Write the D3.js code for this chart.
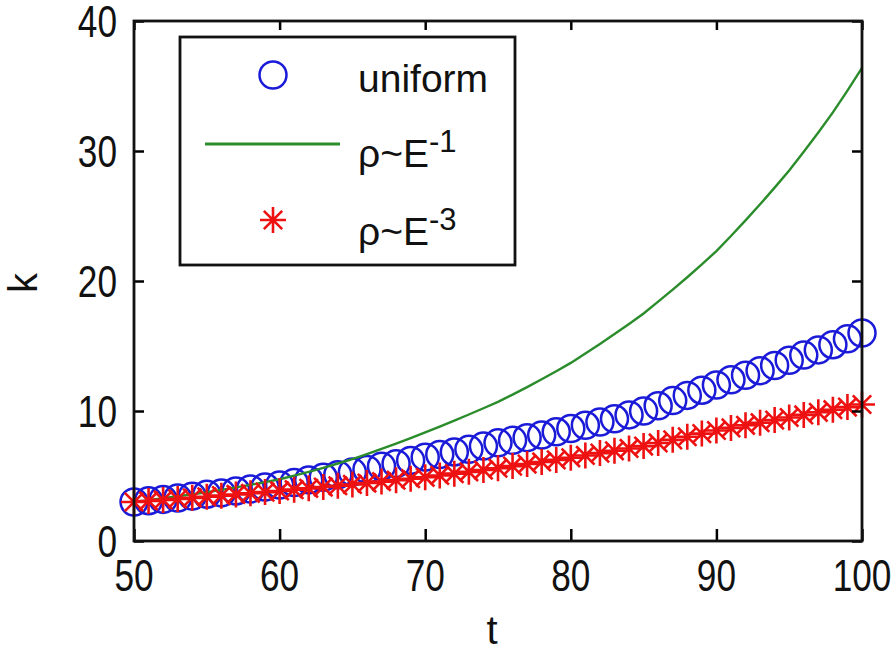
<!DOCTYPE html>
<html>
<head>
<meta charset="utf-8">
<script src="https://cdn.jsdelivr.net/npm/d3@7"></script>
<style>
  html, body { margin: 0; padding: 0; background: #fff; }
  svg { display: block; }
</style>
</head>
<body>
<svg id="chart" width="896" height="651"></svg>
<script>
// ---- data ----
const tValues = d3.range(50, 101, 1);
const uniform = [3.0, 3.1, 3.2, 3.3, 3.45, 3.6, 3.7, 3.85, 4.0, 4.15,
  4.3, 4.5, 4.7, 4.9, 5.1, 5.3, 5.5, 5.75, 5.95, 6.2,
  6.45, 6.65, 6.85, 7.05, 7.3, 7.55, 7.75, 7.95, 8.15, 8.4,
  8.65, 8.9, 9.15, 9.4, 9.7, 10.0, 10.4, 10.8, 11.2, 11.6,
  12.0, 12.4, 12.75, 13.1, 13.5, 13.9, 14.3, 14.7, 15.1, 15.55, 16.0];
const rhoE1 = [3.0, 3.14, 3.29, 3.44, 3.59, 3.75, 3.93, 4.12, 4.32, 4.53,
  4.75, 5.03, 5.32, 5.63, 5.96, 6.3, 6.68, 7.08, 7.49, 7.91,
  8.35, 8.8, 9.26, 9.73, 10.21, 10.7, 11.26, 11.84, 12.44, 13.06,
  13.7, 14.42, 15.16, 15.92, 16.7, 17.5, 18.41, 19.34, 20.29, 21.28,
  22.3, 23.46, 24.66, 25.9, 27.18, 28.5, 29.94, 31.43, 32.97, 34.65, 36.4];
const rhoE3 = [3.0, 3.08, 3.16, 3.24, 3.32, 3.4, 3.49, 3.58, 3.67, 3.76,
  3.85, 3.95, 4.05, 4.15, 4.25, 4.35, 4.46, 4.57, 4.68, 4.79,
  4.9, 5.04, 5.18, 5.32, 5.46, 5.6, 5.76, 5.92, 6.08, 6.24,
  6.4, 6.58, 6.76, 6.94, 7.12, 7.3, 7.54, 7.78, 8.02, 8.26,
  8.5, 8.7, 8.9, 9.1, 9.3, 9.5, 9.7, 9.9, 10.1, 10.3, 10.5];
const xTicks = [50, 60, 70, 80, 90, 100];
const yTicks = [0, 10, 20, 30, 40];
const legendLabels = [
  { base: "uniform", sup: "" },
  { base: "\u03c1~E", sup: "-1" },
  { base: "\u03c1~E", sup: "-3" }
];

// ---- layout ----
const svg = d3.select("#chart");
const L = 134, R = 862, T = 21, B = 541;
const x = d3.scaleLinear().domain([50, 100]).range([L, R]);
const y = d3.scaleLinear().domain([0, 40]).range([B, T]);

const BLUE = "#1a1ad8", GREEN = "#2a8c2a", RED = "#ee1111";
const textFont = "'Liberation Sans', Arial, Helvetica, sans-serif";

function starPath(s) {
  const d = s * Math.SQRT1_2;
  return `M${-s},0L${s},0M0,${-s}L0,${s}M${-d},${-d}L${d},${d}M${-d},${d}L${d},${-d}`;
}

const plot = svg.append("g");

// uniform circles
plot.append("g").selectAll("circle").data(tValues).join("circle")
  .attr("cx", (d) => x(d))
  .attr("cy", (d, i) => y(uniform[i]))
  .attr("r", 13.5)
  .attr("fill", "none")
  .attr("stroke", BLUE)
  .attr("stroke-width", 2.5);

// rho~E^-1 line
plot.append("path")
  .datum(tValues)
  .attr("fill", "none")
  .attr("stroke", GREEN)
  .attr("stroke-width", 2.4)
  .attr("d", d3.line().x((d) => x(d)).y((d, i) => y(rhoE1[i])));

// rho~E^-3 stars
plot.append("g").selectAll("path").data(tValues).join("path")
  .attr("transform", (d, i) => `translate(${x(d)},${y(rhoE3[i])})`)
  .attr("d", starPath(13))
  .attr("fill", "none")
  .attr("stroke", RED)
  .attr("stroke-width", 2.6);

// ---- axes ----
const axG = svg.append("g");
const xAxisB = d3.axisBottom(x).tickValues(xTicks).tickSize(-12).tickFormat("");
const xAxisT = d3.axisTop(x).tickValues(xTicks).tickSize(-9).tickFormat("");
const yAxisL = d3.axisLeft(y).tickValues(yTicks).tickSize(-10).tickFormat("");
const yAxisR = d3.axisRight(y).tickValues(yTicks).tickSize(-10).tickFormat("");
axG.append("g").attr("transform", `translate(0,${B})`).call(xAxisB);
axG.append("g").attr("transform", `translate(0,${T})`).call(xAxisT);
axG.append("g").attr("transform", `translate(${L},0)`).call(yAxisL);
axG.append("g").attr("transform", `translate(${R},0)`).call(yAxisR);
axG.selectAll(".domain").remove();
axG.selectAll(".tick line").attr("stroke", "#000").attr("stroke-width", 2.5);
axG.append("rect")
  .attr("x", L).attr("y", T).attr("width", R - L).attr("height", B - T)
  .attr("fill", "none").attr("stroke", "#111").attr("stroke-width", 2.8);

// tick labels (condensed)
svg.append("g").selectAll("text").data(xTicks).join("text")
  .attr("transform", (d) => `translate(${x(d)},591) scale(0.8,1)`)
  .attr("text-anchor", "middle")
  .attr("font-family", textFont).attr("font-size", 44).attr("fill", "#111")
  .text((d) => d);
svg.append("g").selectAll("text").data(yTicks).join("text")
  .attr("transform", (d) => `translate(117,${y(d) + 15.5}) scale(0.8,1)`)
  .attr("text-anchor", "end")
  .attr("font-family", textFont).attr("font-size", 44).attr("fill", "#111")
  .text((d) => d);

// axis titles
svg.append("text").attr("x", 492).attr("y", 644)
  .attr("text-anchor", "middle")
  .attr("font-family", textFont).attr("font-size", 40).attr("fill", "#111")
  .text("t");
svg.append("text").attr("transform", "translate(37,283) rotate(-90)")
  .attr("text-anchor", "middle")
  .attr("font-family", textFont).attr("font-size", 40).attr("fill", "#111")
  .text("k");

// ---- legend ----
const lg = svg.append("g");
lg.append("rect").attr("x", 180).attr("y", 37).attr("width", 335).attr("height", 228)
  .attr("fill", "#fff").attr("stroke", "#111").attr("stroke-width", 2.8);
const rowY = [75, 144, 220];
const baseY = [92, 167, 245];
lg.append("circle").attr("cx", 273).attr("cy", rowY[0]).attr("r", 13.5)
  .attr("fill", "none").attr("stroke", BLUE).attr("stroke-width", 2.5);
lg.append("line").attr("x1", 205).attr("x2", 340).attr("y1", rowY[1]).attr("y2", rowY[1])
  .attr("stroke", GREEN).attr("stroke-width", 2.8);
lg.append("path").attr("transform", `translate(273,${rowY[2]})`).attr("d", starPath(13))
  .attr("fill", "none").attr("stroke", RED).attr("stroke-width", 2.6);
legendLabels.forEach((lab, i) => {
  const t = lg.append("text").attr("x", 358).attr("y", baseY[i])
    .attr("font-family", textFont).attr("font-size", 39).attr("fill", "#111");
  t.append("tspan").text(lab.base);
  if (lab.sup) {
    t.append("tspan").attr("dy", -15).attr("font-size", 31).text(lab.sup);
  }
});
</script>
</body>
</html>
